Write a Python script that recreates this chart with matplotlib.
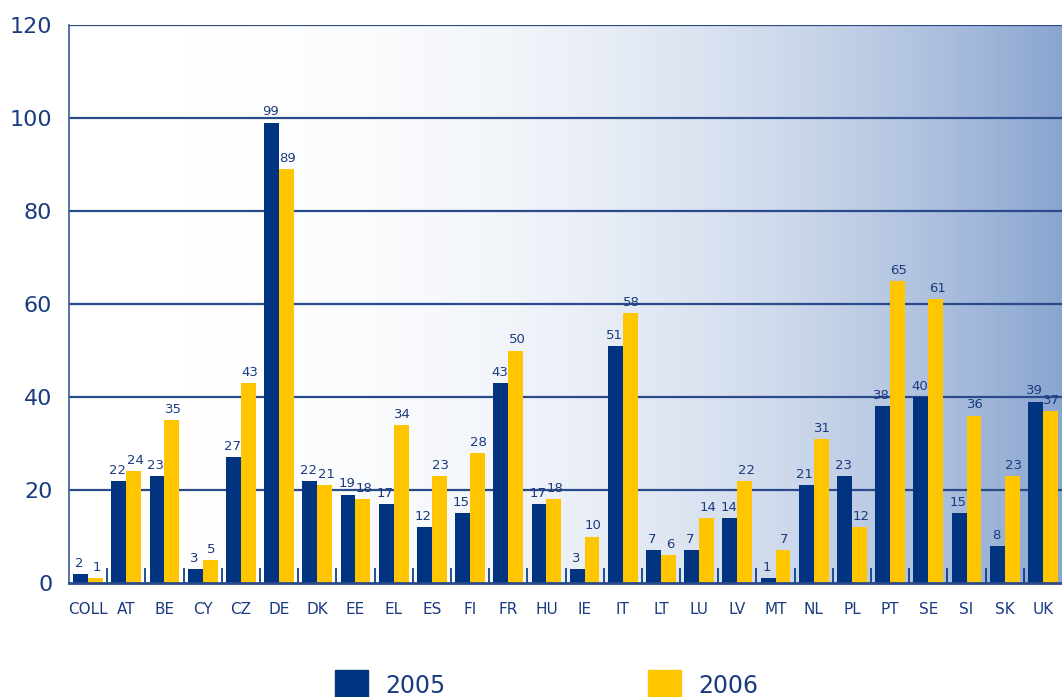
import numpy as np
import matplotlib
matplotlib.use("Agg")
import matplotlib.pyplot as plt
from matplotlib.colors import LinearSegmentedColormap
from matplotlib.patches import Rectangle

categories = ["COLL", "AT", "BE", "CY", "CZ", "DE", "DK", "EE", "EL", "ES", "FI", "FR", "HU",
              "IE", "IT", "LT", "LU", "LV", "MT", "NL", "PL", "PT", "SE", "SI", "SK", "UK"]
v2005 = [2, 22, 23, 3, 27, 99, 22, 19, 17, 12, 15, 43, 17, 3, 51, 7, 7, 14, 1, 21, 23, 38, 40, 15, 8, 39]
v2006 = [1, 24, 35, 5, 43, 89, 21, 18, 34, 23, 28, 50, 18, 10, 58, 6, 14, 22, 7, 31, 12, 65, 61, 36, 23, 37]
yticks = [0, 20, 40, 60, 80, 100, 120]
series_names = ["2005", "2006"]

NAVY = "#003380"
YELLOW = "#FFC600"
TXT = "#1a3b80"
GRID = "#2a4a8c"

W, H = 1062, 697
fig = plt.figure(figsize=(W / 100, H / 100), dpi=100)
ax = fig.add_axes([69 / W, 1 - 583 / H, 1 - 69 / W, (583 - 25) / H])

n = len(categories)
x = np.arange(n)
bw = 0.39

# gradient background
grad = np.linspace(0, 1, 400) ** 2.6
cmap = LinearSegmentedColormap.from_list("bg", ["#ffffff", "#8aa5d0"])
ax.imshow(grad[np.newaxis, :], extent=[-0.5, n - 0.5, 0, 120], aspect="auto",
          cmap=cmap, vmin=0, vmax=1, zorder=0, interpolation="bilinear")

for yv in yticks[1:]:
    ax.axhline(yv, color=GRID, lw=1.6, zorder=1)

b1 = ax.bar(x - bw / 2, v2005, bw, color=NAVY, zorder=3)
b2 = ax.bar(x + bw / 2, v2006, bw, color=YELLOW, zorder=3)

for bars, vals, dx in ((b1, v2005, -1), (b2, v2006, 1)):
    for r, v in zip(bars, vals):
        ax.annotate(str(v), (r.get_x() + r.get_width() / 2, v), xytext=(dx, 3),
                    textcoords="offset points", ha="center", va="bottom",
                    fontsize=9.5, color=TXT, zorder=4)

ax.set_xlim(-0.5, n - 0.5)
ax.set_ylim(0, 120)
ax.set_xticks(x)
ax.set_xticklabels(categories, fontsize=11, color=TXT)
ax.set_xticks(np.arange(n - 1) + 0.5, minor=True)
ax.tick_params(axis="x", which="major", length=0, pad=14)
ax.tick_params(axis="x", which="minor", direction="in", length=11, width=1.2, color=NAVY)
ax.set_yticks(yticks)
ax.set_yticklabels([str(t) for t in yticks], fontsize=16, color=TXT)
ax.tick_params(axis="y", length=0, pad=12)

for s in ("top", "right"):
    ax.spines[s].set_visible(False)
ax.spines["left"].set_color("#3a5a95")
ax.spines["left"].set_linewidth(1.2)
ax.spines["bottom"].set_color(GRID)
ax.spines["bottom"].set_linewidth(2)
ax.spines["left"].set_zorder(5)
ax.spines["bottom"].set_zorder(5)

# legend
for px, col, name in ((335, NAVY, series_names[0]), (648, YELLOW, series_names[1])):
    fig.patches.append(Rectangle((px / W, 1 - 703 / H), 33 / W, 33 / H,
                                 transform=fig.transFigure, color=col, figure=fig))
    fig.text((px + 50) / W, 1 - 674 / H, name, fontsize=17, color=TXT,
             ha="left", va="top")

fig.savefig("out.png", dpi=100)
